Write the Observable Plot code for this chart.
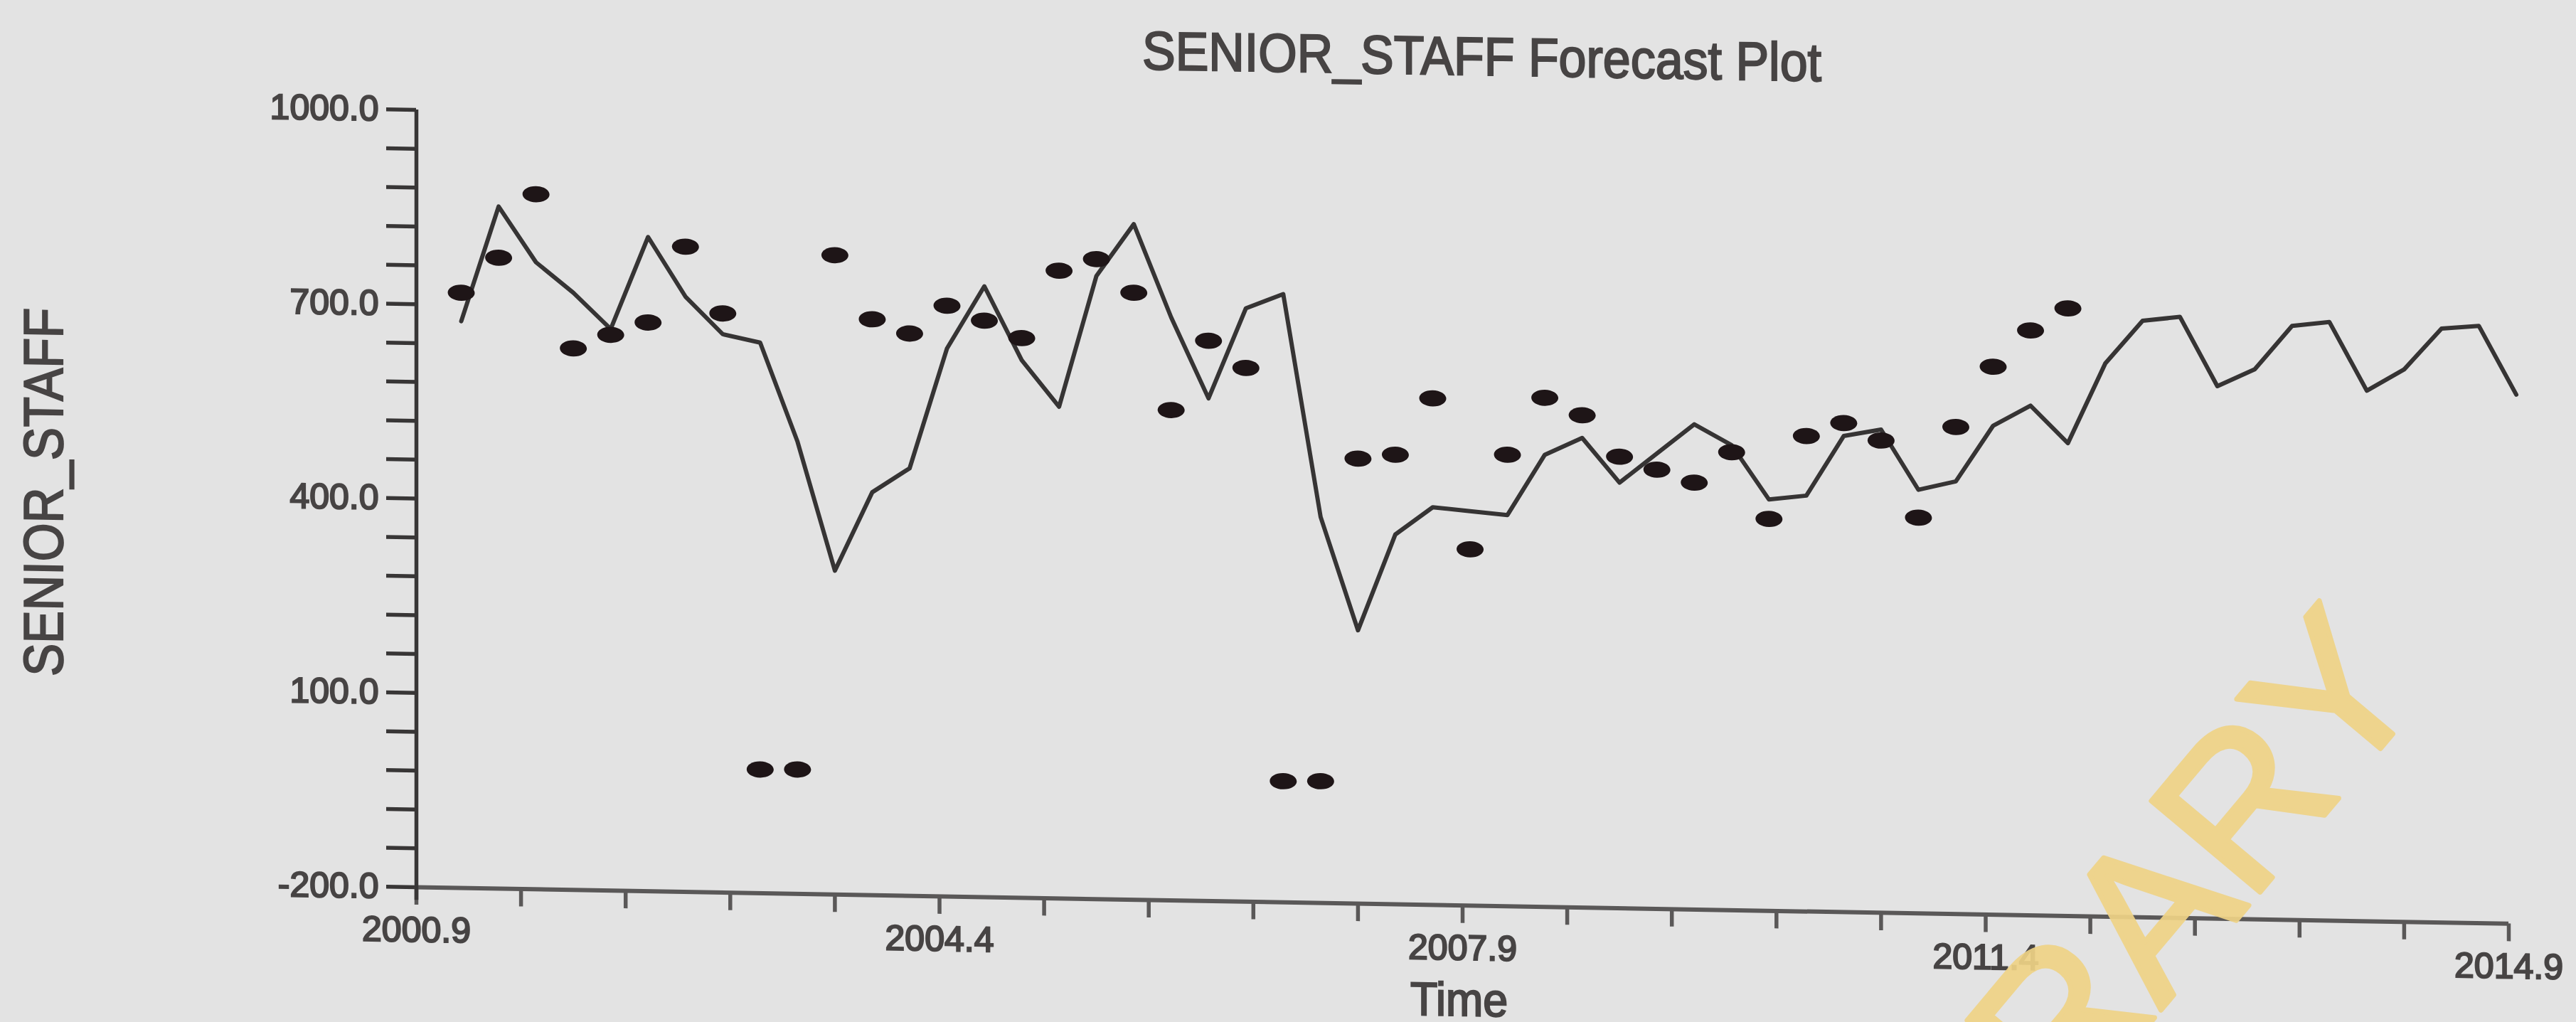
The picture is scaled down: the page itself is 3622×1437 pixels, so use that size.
<!DOCTYPE html>
<html>
<head>
<meta charset="utf-8">
<script src="https://cdn.jsdelivr.net/npm/d3@7"></script>
<script src="https://cdn.jsdelivr.net/npm/@observablehq/plot@0.6"></script>
<style>
  html, body { margin: 0; padding: 0; background: #e3e3e3; overflow: hidden; }
  #chart { position: relative; width: 3622px; height: 1437px; }
  #chart svg { display: block; transform: skewY(1deg); transform-origin: 585px 0; }
  #chart svg text { stroke: #474444; stroke-width: 2.2px; }
  #stamp {
    position: absolute; left: 0; top: 0; width: 3622px; height: 1437px;
    pointer-events: none; overflow: hidden;
  }
</style>
</head>
<body>
<div id="chart"></div>
<svg id="stamp" xmlns="http://www.w3.org/2000/svg"></svg>
<script>
// Quarterly time index: first quarter shown and spacing in years
const firstQuarter = 2001.2;
const quarterStep = 0.25;

// Fitted + forecast series (solid line), one value per quarter
const fitted = [
  675, 853, 768, 722, 667, 810, 719, 662, 650, 498,
  300, 422, 460, 646, 743, 630, 559, 762, 843, 700,
  576, 716, 739, 396, 222, 371, 414, 409, 404, 498,
  525, 457, 503, 549, 518, 435, 442, 535, 546, 454,
  468, 555, 587, 530, 654, 721, 728, 622, 649, 717,
  724, 619, 653, 717, 722, 617
];

// Observed SENIOR_STAFF values (dots)
const observed = [
  719, 774, 873, 636, 658, 678, 796, 694, -9, -8,
  787, 689, 668, 712, 690, 664, 769, 788, 737, 557,
  665, 624, -13, -12, 487, 494, 582, 350, 497, 586,
  560, 497, 478, 459, 507, 405, 534, 555, 529, 411,
  552, 646, 703, 738
];

// Axis ticks
const xTicks = [2000.9, 2001.6, 2002.3, 2003.0, 2003.7, 2004.4, 2005.1, 2005.8, 2006.5, 2007.2,
                2007.9, 2008.6, 2009.3, 2010.0, 2010.7, 2011.4, 2012.1, 2012.8, 2013.5, 2014.2, 2014.9];
const xLabelled = [2000.9, 2004.4, 2007.9, 2011.4, 2014.9];
const yTicks = [-200, -140, -80, -20, 40, 100, 160, 220, 280, 340, 400,
                460, 520, 580, 640, 700, 760, 820, 880, 940, 1000];
const yLabelled = [-200, 100, 400, 700, 1000];

const title = "SENIOR_STAFF Forecast Plot";
const yTitle = "SENIOR_STAFF";
const xTitle = "Time";

const fittedRows = fitted.map((v, i) => ({t: firstQuarter + i * quarterStep, v}));
const observedRows = observed.map((v, i) => ({t: firstQuarter + i * quarterStep, v}));

// Flattened elliptical marker for the observations
const ellipse = {
  draw(context, size) {
    const rx = Math.sqrt(size / Math.PI), ry = rx * 0.6, k = 0.5523;
    context.moveTo(rx, 0);
    context.bezierCurveTo(rx, ry * k, rx * k, ry, 0, ry);
    context.bezierCurveTo(-rx * k, ry, -rx, ry * k, -rx, 0);
    context.bezierCurveTo(-rx, -ry * k, -rx * k, -ry, 0, -ry);
    context.bezierCurveTo(rx * k, -ry, rx, -ry * k, rx, 0);
    context.closePath();
  }
};

const ink = "#474444";
const fmt = d => d.toFixed(1);

const chart = Plot.plot({
  width: 3622,
  height: 1437,
  marginLeft: 585,
  marginRight: 95,
  marginTop: 154,
  marginBottom: 190,
  style: {fontFamily: "'Liberation Sans', Arial, sans-serif", background: "transparent", color: ink},
  x: {domain: [2000.9, 2014.9]},
  y: {domain: [-200, 1000]},
  marks: [
    Plot.axisY(yTicks, {
      anchor: "left", label: null, tickSize: 42, tickPadding: 11, fontSize: 50,
      stroke: "#383636", strokeWidth: 5.5, fill: ink,
      tickFormat: d => yLabelled.includes(d) ? fmt(d) : ""
    }),
    Plot.axisX(xTicks, {
      anchor: "bottom", label: null, tickSize: 25, tickPadding: 16, fontSize: 50,
      stroke: "#5a5858", strokeWidth: 5.5, fill: ink,
      tickFormat: d => xLabelled.some(l => Math.abs(l - d) < 1e-6) ? fmt(d) : ""
    }),
    Plot.ruleY([-200], {stroke: "#5a5858", strokeWidth: 6}),
    Plot.ruleX([2000.9], {y1: -220, y2: 1000, stroke: "#383636", strokeWidth: 5.5}),
    Plot.line(fittedRows, {x: "t", y: "v", stroke: "#363434", strokeWidth: 6}),
    Plot.dot(observedRows, {x: "t", y: "v", r: 19, symbol: ellipse, fill: "#1e1517", stroke: "none"}),
    Plot.text([title], {text: d => d, frameAnchor: "top", dx: 27, dy: -75, lineAnchor: "bottom", fontSize: 76, fill: ink}),
    Plot.text([yTitle], {text: d => d, frameAnchor: "left", dx: -522, rotate: -90, textAnchor: "middle", lineAnchor: "middle", fontSize: 78, fill: ink}),
    Plot.text([xTitle], {text: d => d, frameAnchor: "bottom", dx: -5, dy: 155, lineAnchor: "bottom", fontSize: 66, fill: ink})
  ]
});

// Narrow the heading glyphs to the printed widths
const widths = {[title]: 955, [yTitle]: 518, [xTitle]: 137};
d3.select(chart).selectAll("text").each(function () {
  const w = widths[this.textContent];
  if (w) { this.setAttribute("textLength", w); this.setAttribute("lengthAdjust", "spacingAndGlyphs"); }
});

document.getElementById("chart").appendChild(chart);

// Library stamp across the lower right corner
d3.select("#stamp").append("text")
  .attr("transform", "translate(3418,968) rotate(-50)")
  .attr("text-anchor", "end")
  .attr("font-family", "'Liberation Sans', Arial, sans-serif")
  .attr("font-size", 290)
  .attr("fill", "#efd386")
  .attr("stroke", "#efd386")
  .attr("stroke-width", 7)
  .attr("stroke-linejoin", "round")
  .attr("opacity", 0.92)
  .text("LIBRARY");
</script>
</body>
</html>
